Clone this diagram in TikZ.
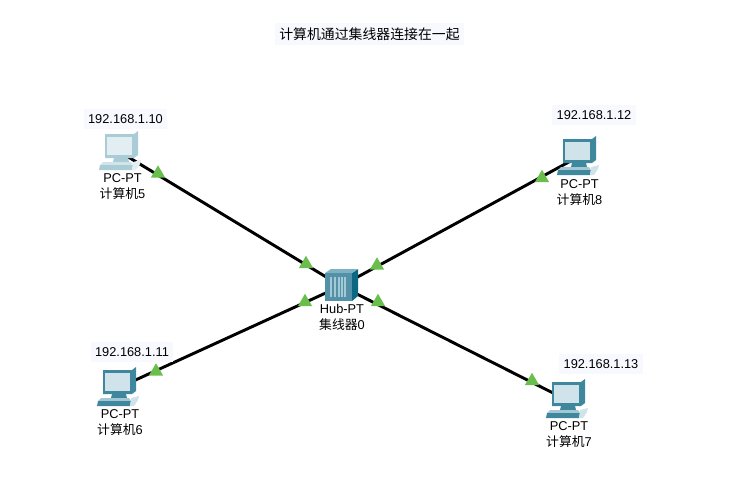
\documentclass[tikz,border=0pt]{standalone}
\usepackage{fontspec}
\setmainfont{Liberation Sans}
\setsansfont{Liberation Sans}
\newfontfamily\cjk{Noto Sans CJK SC}
\usepackage{xcolor}
\usetikzlibrary{positioning, shapes.geometric, backgrounds}
\definecolor{linkgreen}{RGB}{106, 190, 75}
\definecolor{labelbg}{RGB}{248, 248, 255}
\definecolor{pcframe}{RGB}{62, 135, 156}
\definecolor{pcscreen}{RGB}{208, 226, 234}
\definecolor{pcfaded}{RGB}{170, 204, 215}
\definecolor{pcpale}{RGB}{226, 238, 242}
\definecolor{hubfront}{RGB}{83, 145, 168}
\definecolor{hubtop}{RGB}{125, 178, 194}
\definecolor{hubside}{RGB}{12, 104, 130}

\begin{document}
\begin{tikzpicture}[
    x=0.75pt, y=-0.75pt,
    font=\sffamily,
    % Styles definition
    spot/.style={inner sep=0pt, minimum size=1pt},
    link/.style={draw=black, line width=2.2pt},
    linkup/.style={regular polygon, regular polygon sides=3, fill=linkgreen, inner sep=0pt, minimum size=16.5pt*0.75},
    iplabel/.style={fill=labelbg, font=\fontsize{9.6}{12}\selectfont, inner xsep=3.2pt, inner ysep=4.2pt},
    title/.style={fill=labelbg, font=\fontsize{10.4}{12}\selectfont\cjk, inner xsep=3.4pt, inner ysep=3.4pt},
    devlabel/.style={align=center, font=\fontsize{9.6}{12}\selectfont, inner sep=0pt},
    pics/pcicon/.style args={#1 and #2}{code={
        \fill[#1] (-15,-18) -- (14,-18) -- (18,-21) -- (18,3) -- (14,6) -- (-15,6) -- cycle;
        \fill[#2] (-13,-15) -- (12,-15) -- (12,3) -- (-13,3) -- cycle;
        \fill[#1] (-6,6) -- (8,6) -- (9,10) -- (-7,10) -- cycle;
        \fill[#2!70!#1] (-17,10) -- (11,10) -- (13,13) -- (-20,13) -- cycle;
        \fill[#1] (-20,13) -- (13,13) -- (12,18) -- (-21,18) -- cycle;
        \fill[#2] (13,10) -- (21,8) -- (20,12) -- (16,18) -- (12,18) -- cycle;
    }},
    pics/hubicon/.style={code={
        \fill[hubside] (11,-13) -- (17,-17) -- (17,10) -- (11,15) -- cycle;
        \fill[hubtop] (-16,-13) -- (-10,-17) -- (17,-17) -- (11,-13) -- cycle;
        \fill[hubfront] (-16,-13) rectangle (11,15);
        \foreach \sx in {-11,-7,-3,0,3}
            \fill[hubtop!70!white] (\sx,-9) rectangle ++(1.6,20);
    }}
]
\useasboundingbox (0,0) rectangle (746,494);

% Title
\node[title] (heading) at (369.5,34) {计算机通过集线器连接在一起};

% Devices
\node[spot] (pc5) at (120,152) {};
\node[spot] (pc8) at (578,157) {};
\node[spot] (pc6) at (118,388) {};
\node[spot] (pc7) at (567,400) {};
\node[spot] (hub) at (341,286) {};

% Links
\begin{scope}[on background layer]
    \draw[link] (pc5) -- (hub);
    \draw[link] (pc8) -- (hub);
    \draw[link] (pc6) -- (hub);
    \draw[link] (pc7) -- (hub);
\end{scope}

% Icons
\pic at (pc5) {pcicon={pcfaded and pcpale}};
\pic at (pc8) {pcicon={pcframe and pcscreen}};
\pic at (pc6) {pcicon={pcframe and pcscreen}};
\pic at (pc7) {pcicon={pcframe and pcscreen}};
\pic at (hub) {hubicon};

% Link lights
\node[linkup] (up5a) at (158,173.5) {};
\node[linkup] (up5b) at (306,264) {};
\node[linkup] (up8a) at (542,178) {};
\node[linkup] (up8b) at (377,265.5) {};
\node[linkup] (up6a) at (156,371.5) {};
\node[linkup] (up6b) at (305,302) {};
\node[linkup] (up7a) at (532,381) {};
\node[linkup] (up7b) at (378,302) {};

% Addresses
\node[iplabel] (ip5) at (125.5,119) {192.168.1.10};
\node[iplabel] (ip8) at (594,115) {192.168.1.12};
\node[iplabel] (ip6) at (132,352) {192.168.1.11};
\node[iplabel] (ip7) at (601,364) {192.168.1.13};

% Device names
\node[devlabel] (name5) at (122.5,187) {PC-PT\\{\cjk 计算机}5};
\node[devlabel] (name8) at (579.5,193) {PC-PT\\{\cjk 计算机}8};
\node[devlabel] (name6) at (120,423) {PC-PT\\{\cjk 计算机}6};
\node[devlabel] (name7) at (569,434.5) {PC-PT\\{\cjk 计算机}7};
\node[devlabel] (namehub) at (342,317) {Hub-PT\\{\cjk 集线器}0};

\end{tikzpicture}
\end{document}
